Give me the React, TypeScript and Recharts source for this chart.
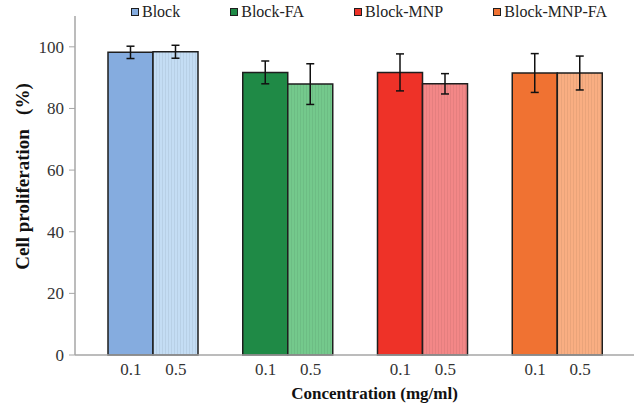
import React from "react";
import { BarChart, Bar, XAxis, YAxis, ErrorBar, Cell, Legend } from "recharts";

// Cell proliferation at two concentrations for each block formulation
const groups = ["Block", "Block-FA", "Block-MNP", "Block-MNP-FA"];
const concentrations = ["0.1", "0.5"];
const lowDose = [98.2, 91.7, 91.7, 91.5];
const lowDoseErr = [2.0, 3.7, 6.0, 6.3];
const highDose = [98.4, 87.9, 88.0, 91.5];
const highDoseErr = [2.1, 6.6, 3.3, 5.5];
const yTicks = [0, 20, 40, 60, 80, 100];

const solidColors = ["#85acdf", "#1f8a46", "#ee3228", "#f07232"];
const paleColors = ["#c4ddf4", "#74c98c", "#f38787", "#f9ae82"];

const data = groups.map((g, i) => ({
  group: g,
  low: lowDose[i],
  lowErr: lowDoseErr[i],
  high: highDose[i],
  highErr: highDoseErr[i],
}));

const FONT = "Liberation Serif";
const BAR = 45;
const OUTLINE = "#1e1e1e";

// two labels under each group, one per bar
const ConcTick = (props: any) => {
  const { x, y } = props;
  return (
    <g>
      {concentrations.map((c, i) => (
        <text
          key={c}
          x={x + (i === 0 ? -BAR / 2 : BAR / 2)}
          y={y}
          dy="0.71em"
          textAnchor="middle"
          fontSize={17}
          fill="#333"
        >
          {c}
        </text>
      ))}
    </g>
  );
};

const LegendContent = () => (
  <div
    style={{
      display: "flex",
      gap: 50,
      paddingLeft: 131,
      fontFamily: FONT,
      fontSize: 16,
      color: "#222",
      lineHeight: "18px",
    }}
  >
    {groups.map((g, i) => (
      <div key={g} style={{ display: "flex", alignItems: "center", gap: 3 }}>
        <span
          style={{
            display: "inline-block",
            width: 6,
            height: 6,
            background: solidColors[i],
            border: `1.5px solid ${OUTLINE}`,
          }}
        />
        <span>{g}</span>
      </div>
    ))}
  </div>
);

export default function App() {
  return (
    <div style={{ width: 635, height: 404, background: "#fff", fontFamily: FONT }}>
      <style>{`body{margin:0} svg text{font-family:"Liberation Serif", serif}`}</style>
      <BarChart
        width={635}
        height={404}
        data={data}
        margin={{ top: 16, right: 1, bottom: 0, left: 0 }}
        barGap={0}
        barSize={BAR}
      >
        <defs>
          {paleColors.map((c, i) => (
            <pattern
              key={c}
              id={`stripes-${i}`}
              width={3}
              height={10}
              patternUnits="userSpaceOnUse"
            >
              <rect width={3} height={10} fill={c} />
              <rect width={1} height={10} fill="#000" fillOpacity={0.06} />
            </pattern>
          ))}
        </defs>
        <XAxis
          dataKey="group"
          height={49}
          padding={{ left: 11, right: 9 }}
          axisLine={{ stroke: "#a6a6a6", strokeWidth: 1.5 }}
          tickLine={false}
          tickSize={6}
          tickMargin={2}
          tick={<ConcTick />}
          interval={0}
          label={({ viewBox }: any) => (
            <text
              x={viewBox.x + viewBox.width / 2 + 20}
              y={viewBox.y + 44}
              textAnchor="middle"
              fontSize={17}
              fontWeight="bold"
              fill="#111"
            >
              Concentration (mg/ml)
            </text>
          )}
        />
        <YAxis
          width={75}
          domain={[0, 110]}
          ticks={yTicks}
          axisLine={{ stroke: "#a6a6a6", strokeWidth: 1.5 }}
          tickLine={{ stroke: "#a6a6a6" }}
          tickSize={6}
          tickMargin={5}
          tick={{ fontSize: 17, fill: "#333" }}
          label={({ viewBox }: any) => {
            const cx = 22;
            const cy = viewBox.y + viewBox.height / 2 - 9;
            return (
              <text
                x={cx}
                y={cy}
                transform={`rotate(-90 ${cx} ${cy})`}
                textAnchor="middle"
                dominantBaseline="central"
                fontSize={19}
                fontWeight="bold"
                fill="#111"
                style={{ whiteSpace: "pre" }}
              >
                {"Cell proliferation   (%)"}
              </text>
            );
          }}
        />
        <Legend
          verticalAlign="middle"
          align="center"
          wrapperStyle={{ top: 3, left: 0, width: 635 }}
          content={<LegendContent />}
        />
        <Bar dataKey="low" stroke={OUTLINE} strokeWidth={1.5} isAnimationActive={false}>
          {data.map((d, i) => (
            <Cell key={d.group} fill={solidColors[i]} />
          ))}
          <ErrorBar dataKey="lowErr" width={4} stroke="#111" strokeWidth={1.5} />
        </Bar>
        <Bar dataKey="high" stroke={OUTLINE} strokeWidth={1.5} isAnimationActive={false}>
          {data.map((d, i) => (
            <Cell key={d.group} fill={`url(#stripes-${i})`} />
          ))}
          <ErrorBar dataKey="highErr" width={4} stroke="#111" strokeWidth={1.5} />
        </Bar>
      </BarChart>
    </div>
  );
}
